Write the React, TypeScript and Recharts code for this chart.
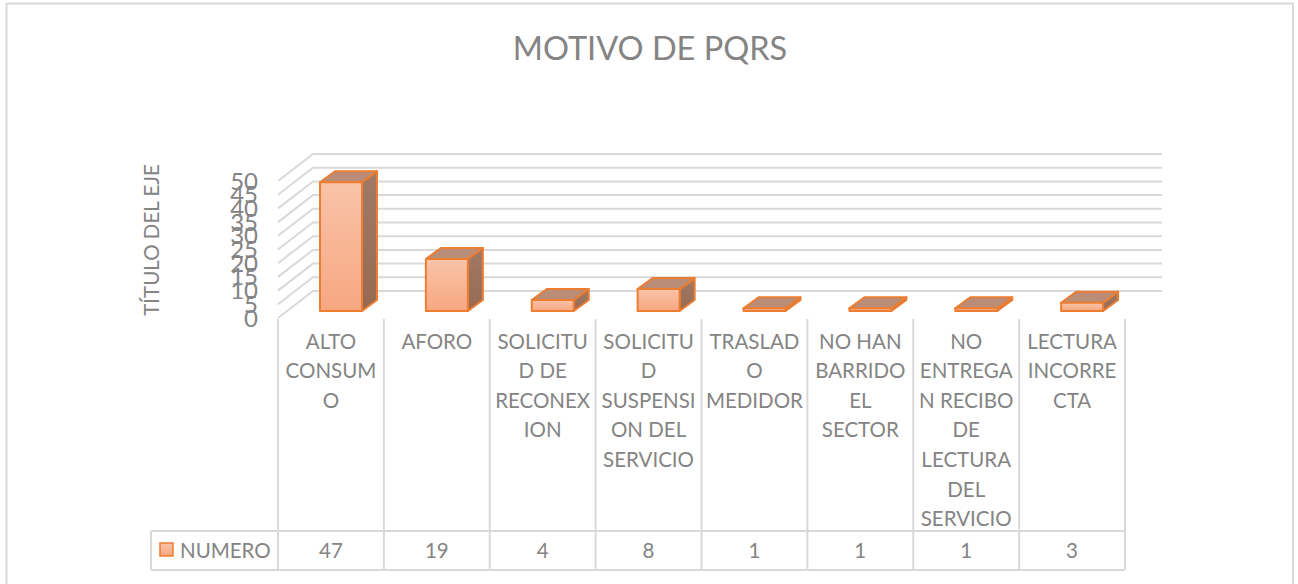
import React from 'react';
import { BarChart, Bar, XAxis, YAxis, CartesianGrid } from 'recharts';

const categories = [
  'ALTO CONSUMO',
  'AFORO',
  'SOLICITUD DE RECONEXION',
  'SOLICITUD SUSPENSION DEL SERVICIO',
  'TRASLADO MEDIDOR',
  'NO HAN BARRIDO EL SECTOR',
  'NO ENTREGAN RECIBO DE LECTURA DEL SERVICIO',
  'LECTURA INCORRECTA',
];
// Excel breaks the labels mid-word, so the lines are kept as they appear
const categoryLines = [
  ['ALTO', 'CONSUM', 'O'],
  ['AFORO'],
  ['SOLICITU', 'D DE', 'RECONEX', 'ION'],
  ['SOLICITU', 'D', 'SUSPENSI', 'ON DEL', 'SERVICIO'],
  ['TRASLAD', 'O', 'MEDIDOR'],
  ['NO HAN', 'BARRIDO', 'EL', 'SECTOR'],
  ['NO', 'ENTREGA', 'N RECIBO', 'DE', 'LECTURA', 'DEL', 'SERVICIO'],
  ['LECTURA', 'INCORRE', 'CTA'],
];
const numero = [47, 19, 4, 8, 1, 1, 1, 3];
const yTicks = [0, 5, 10, 15, 20, 25, 30, 35, 40, 45, 50];

const data = categories.map((name, i) => ({ name, numero: numero[i] }));

const FONT = 'Lato, sans-serif';
const TEXT = '#848484';
const LINE = '#d9d9d9';
const ORANGE = '#ed7d31';
const BAND = 105.9;

// the back wall of the 3D plot: each line runs up the side wall then across
const WallLine = ({ x1, x2, y1 }: any) => (
  <polyline
    points={`${x1},${y1} ${x1 + 35},${y1 - 27} ${x2 + 37},${y1 - 27}`}
    fill="none"
    stroke={LINE}
    strokeWidth={2}
  />
);

const Bar3D = ({ x, y, width, height }: any) => {
  const left = x + 10;
  const right = left + width;
  const top = y - 7;
  const bottom = top + height;
  const dx = 15;
  const dy = -11;
  return (
    <g stroke={ORANGE} strokeWidth={2} strokeLinejoin="round">
      <polygon
        points={`${right},${top} ${right + dx},${top + dy} ${right + dx},${bottom + dy} ${right},${bottom}`}
        fill="url(#sideFill)"
      />
      <polygon
        points={`${left},${top} ${left + dx},${top + dy} ${right + dx},${top + dy} ${right},${top}`}
        fill="#b98d77"
      />
      <rect x={left} y={top} width={width} height={height} fill="url(#frontFill)" />
    </g>
  );
};

const TableTick = ({ x, index }: any) => {
  const left = x - BAND / 2;
  const right = x + BAND / 2;
  const textProps = { fontFamily: FONT, fontSize: 20.5, fill: TEXT, textAnchor: 'middle' as const };
  return (
    <g>
      <line x1={right} x2={right} y1={319} y2={570} stroke={LINE} strokeWidth={2} />
      {index === 0 && (
        <g>
          <line x1={left} x2={left} y1={319} y2={570} stroke={LINE} strokeWidth={2} />
          <line x1={151} x2={151} y1={531} y2={570} stroke={LINE} strokeWidth={2} />
          <line x1={151} x2={left} y1={531} y2={531} stroke={LINE} strokeWidth={2} />
          <line x1={151} x2={left} y1={570} y2={570} stroke={LINE} strokeWidth={2} />
          <rect x={160} y={543} width={13} height={13} fill="url(#frontFill)" stroke={ORANGE} strokeWidth={1.5} />
          <text x={180} y={557.5} fontFamily={FONT} fontSize={20.5} fill={TEXT}>NUMERO</text>
        </g>
      )}
      <line x1={left} x2={right} y1={531} y2={531} stroke={LINE} strokeWidth={2} />
      <line x1={left} x2={right} y1={570} y2={570} stroke={LINE} strokeWidth={2} />
      {categoryLines[index].map((line, i) => (
        <text key={i} x={x} y={348.5 + i * 29.6} {...textProps}>{line}</text>
      ))}
      <text x={x} y={557.5} {...textProps}>{numero[index]}</text>
    </g>
  );
};

const App = () => {
  return (
    <div style={{ position: 'absolute', left: 0, top: 0, width: 1298, height: 584, background: '#fff' }}>
      <BarChart
        width={1298}
        height={584}
        data={data}
        margin={{ top: 181, right: 173, bottom: 0, left: 0 }}
      >
        <defs>
          <linearGradient id="frontFill" x1="0" y1="0" x2="0" y2="1">
            <stop offset="0%" stopColor="#f9c3a8" />
            <stop offset="100%" stopColor="#f7a781" />
          </linearGradient>
          <linearGradient id="sideFill" x1="0" y1="0" x2="0" y2="1">
            <stop offset="0%" stopColor="#a07a66" />
            <stop offset="100%" stopColor="#976a52" />
          </linearGradient>
        </defs>
        <polyline points="6.5,584 6.5,3.5 1293,3.5 1293,584" fill="none" stroke={LINE} strokeWidth={2} />
        <text x={650} y={60} textAnchor="middle" fontFamily={FONT} fontSize={32.5} fill={TEXT}>
          MOTIVO DE PQRS
        </text>
        <text
          x={159}
          y={240}
          textAnchor="middle"
          transform="rotate(-90 159 240)"
          fontFamily={FONT}
          fontSize={20.5}
          fill={TEXT}
        >
          TÍTULO DEL EJE
        </text>
        <CartesianGrid vertical={false} horizontal={WallLine} />
        <XAxis
          dataKey="name"
          interval={0}
          height={266}
          axisLine={false}
          tickLine={false}
          tick={TableTick}
        />
        <YAxis
          width={278}
          domain={[0, 50]}
          ticks={yTicks}
          interval={0}
          axisLine={false}
          tickLine={false}
          tickMargin={14}
          tick={{ fontFamily: FONT, fontSize: 24, fill: TEXT }}
        />
        <Bar dataKey="numero" barSize={42} shape={Bar3D} isAnimationActive={false} />
      </BarChart>
    </div>
  );
};

export default App;
